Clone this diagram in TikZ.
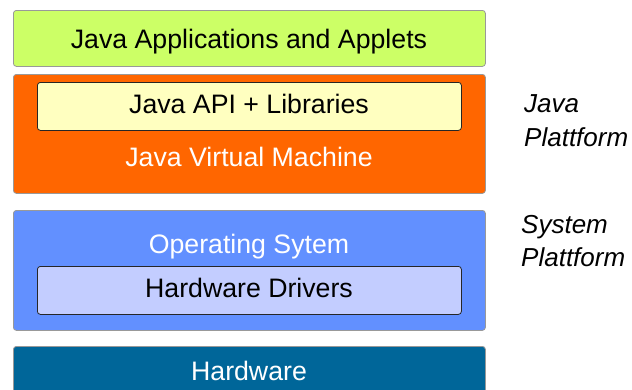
\documentclass[tikz,border=0pt]{standalone}
\usepackage{fontspec}
\setmainfont{Liberation Sans}
\definecolor{appgreen}{HTML}{CCFF66}
\definecolor{jvmorange}{HTML}{FF6600}
\definecolor{apiyellow}{HTML}{FFFFC0}
\definecolor{osblue}{HTML}{6290FF}
\definecolor{drvblue}{HTML}{C3CDFF}
\definecolor{hwblue}{HTML}{006699}
\begin{document}
\begin{tikzpicture}[x=1pt,y=-1pt,
  outerbox/.style={draw=black!40,line width=0.8pt,rounded corners=3pt,minimum width=472pt,inner sep=0pt,anchor=north west},
  innerbox/.style={draw=black!85,line width=0.8pt,rounded corners=3pt,minimum width=424pt,minimum height=48pt,inner sep=0pt,anchor=north west},
  label/.style={font=\fontsize{26.7}{30}\selectfont,inner sep=0pt,anchor=base},
  side/.style={font=\fontsize{26}{30}\selectfont\itshape,inner sep=0pt,anchor=base west}]
\useasboundingbox (0,0) rectangle (632,389);
\clip (0,0) rectangle (632,389);
\node[outerbox,fill=appgreen,minimum height=56pt] (app) at (13,10) {};
\node[label] (apptext) at (249,48) {Java Applications and Applets};
\node[outerbox,fill=jvmorange,minimum height=119pt] (jvm) at (13,74) {};
\node[innerbox,fill=apiyellow] (api) at (37,82) {};
\node[label] (apitext) at (249,113) {Java API + Libraries};
\node[label,text=white] (jvmtext) at (249,166) {Java Virtual Machine};
\node[outerbox,fill=osblue,minimum height=120pt] (os) at (13,210) {};
\node[label,text=white] (ostext) at (249,253) {Operating Sytem};
\node[innerbox,fill=drvblue] (drv) at (37,266) {};
\node[label] (drvtext) at (249,297) {Hardware Drivers};
\node[outerbox,fill=hwblue,minimum height=60pt] (hw) at (13,346) {};
\node[label,text=white] (hwtext) at (249,380) {Hardware};
\node[side] (jp1) at (524,112) {Java};
\node[side] (jp2) at (524,146) {Plattform};
\node[side] (sp1) at (521,233) {System};
\node[side] (sp2) at (521,266) {Plattform};
\end{tikzpicture}
\end{document}
